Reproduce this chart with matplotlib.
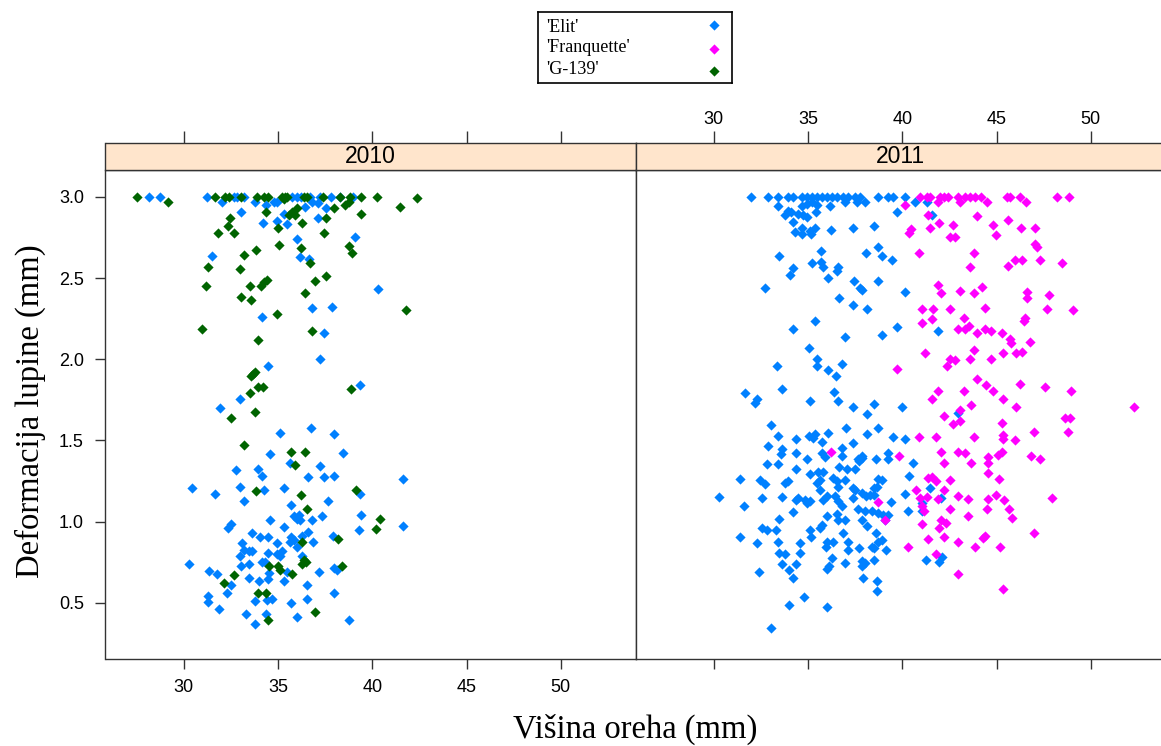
import matplotlib.pyplot as plt

plt.rcParams['font.family'] = ['Liberation Sans', 'DejaVu Sans']

years = ["2010", "2011"]
sorte = ["'Elit'", "'Franquette'", "'G-139'"]
boje = ["#0080ff", "#ff00ff", "#006400"]
x_ticks = [30, 35, 40, 45, 50]
y_ticks = [0.5, 1.0, 1.5, 2.0, 2.5, 3.0]

# 2010 - Elit
elit_2010_x = [28.16, 28.75, 31.25, 32.05, 32.66, 32.85, 33.19, 33.8, 34.77, 34.96, 35.75, 36.0, 36.2, 36.7,
               37.25, 37.8, 38.3, 39.0, 33.02, 34.37, 35.3, 36.46, 36.8, 37.1, 37.57, 34.2, 34.95, 35.5,
               37.13, 36.0, 39.1, 31.48, 36.15, 36.63, 40.3, 36.8, 37.87, 34.16, 37.42, 37.25, 34.46, 39.33,
               32.98, 31.92, 35.13, 36.76, 37.95, 34.6, 35.63, 38.45, 37.25, 32.8, 33.93, 34.16, 36.58,
               37.42, 37.95, 41.62, 30.46, 32.98, 34.25, 35.34, 31.64, 33.19, 37.64, 39.37, 35.7, 35.84,
               36.1, 36.02, 36.19, 36.83, 37.34, 39.42, 41.62, 39.28, 34.6, 32.52, 32.36, 35.34, 33.63,
               34.07, 34.46, 35.7, 35.84, 35.66, 36.28, 36.58, 36.84, 37.92, 33.12, 34.96, 36.0, 33.19,
               33.63, 33.49, 32.98, 34.46, 34.96, 35.22, 35.13, 36.28, 33.02, 33.49, 34.16, 34.29, 34.51,
               35.49, 37.16, 37.95, 38.13, 30.28, 31.34, 31.78, 32.54, 33.49, 33.98, 34.46, 35.34, 36.54,
               31.3, 31.3, 32.3, 33.77, 34.43, 34.69, 35.71, 36.54, 37.95, 31.87, 33.33, 34.37, 36.02,
               33.77, 38.75]
elit_2010_y = [3.0, 3.0, 3.0, 2.97, 3.0, 3.0, 3.0, 2.965, 2.965, 2.965, 3.0, 3.0, 3.0, 3.0,
               3.0, 3.0, 3.0, 3.0, 2.905, 2.95, 2.895, 2.94, 2.97, 2.96, 2.93, 2.84, 2.85, 2.83,
               2.87, 2.74, 2.75, 2.635, 2.63, 2.62, 2.43, 2.315, 2.32, 2.26, 2.16, 2.0, 1.96, 1.84,
               1.755, 1.70, 1.547, 1.578, 1.537, 1.414, 1.362, 1.424, 1.346, 1.32, 1.327, 1.284, 1.276,
               1.276, 1.284, 1.26, 1.208, 1.215, 1.198, 1.208, 1.17, 1.13, 1.13, 1.17, 1.10, 1.033,
               1.044, 1.017, 1.013, 1.008, 1.033, 1.044, 0.975, 0.947, 1.008, 0.988, 0.961, 0.965, 0.93,
               0.905, 0.905, 0.905, 0.889, 0.878, 0.909, 0.936, 0.878, 0.913, 0.869, 0.869, 0.844, 0.827,
               0.817, 0.821, 0.786, 0.807, 0.802, 0.817, 0.786, 0.786, 0.725, 0.741, 0.755, 0.755, 0.684,
               0.693, 0.689, 0.714, 0.704, 0.741, 0.698, 0.679, 0.611, 0.652, 0.632, 0.646, 0.632, 0.611,
               0.543, 0.508, 0.559, 0.514, 0.518, 0.523, 0.498, 0.523, 0.559, 0.46, 0.43, 0.43, 0.415,
               0.368, 0.395]

# 2010 - G-139
g139_2010_x = [27.55, 29.19, 31.64, 32.2, 32.4, 33.05, 33.9, 34.25, 34.5, 35.2, 35.4, 35.5, 35.3, 36.4,
               36.55, 37.4, 38.3, 38.8, 39.4, 40.25, 41.5, 42.36, 34.37, 35.57, 35.75, 35.93, 36.0, 37.95,
               38.57, 38.75, 32.45, 35.0, 32.36, 32.66, 31.83, 36.28, 37.57, 37.42, 39.4, 35.05, 36.2,
               33.85, 33.19, 38.75, 38.93, 36.72, 31.3, 32.98, 37.57, 36.95, 34.25, 34.4, 34.13, 31.2,
               33.5, 33.02, 33.55, 36.46, 41.78, 34.97, 30.95, 36.8, 33.93, 33.55, 33.8, 33.7, 33.93,
               34.2, 38.9, 33.5, 32.52, 33.77, 33.19, 35.7, 36.46, 35.93, 33.85, 36.23, 39.12, 36.54,
               40.39, 40.2, 36.3, 38.17, 36.4, 36.51, 36.28, 34.51, 34.99, 35.13, 35.77, 38.4, 32.66,
               32.13, 33.93, 34.37, 36.98, 34.46]
g139_2010_y = [3.0, 2.97, 3.0, 3.0, 3.0, 3.0, 3.0, 3.0, 3.0, 3.0, 3.0, 3.0, 2.985, 3.0,
               3.0, 3.0, 3.0, 3.0, 3.0, 3.0, 2.94, 2.99, 2.905, 2.885, 2.905, 2.885, 2.93, 2.93,
               2.95, 2.97, 2.87, 2.81, 2.82, 2.78, 2.78, 2.84, 2.87, 2.78, 2.895, 2.705, 2.685,
               2.67, 2.64, 2.695, 2.655, 2.59, 2.57, 2.555, 2.515, 2.48, 2.475, 2.485, 2.45, 2.45,
               2.45, 2.385, 2.366, 2.41, 2.305, 2.28, 2.185, 2.175, 2.12, 1.9, 1.92, 1.91, 1.83,
               1.83, 1.815, 1.79, 1.64, 1.675, 1.475, 1.43, 1.43, 1.352, 1.188, 1.163, 1.198, 1.078,
               1.017, 0.957, 0.878, 0.895, 0.765, 0.751, 0.741, 0.725, 0.725, 0.704, 0.679, 0.725, 0.673,
               0.622, 0.559, 0.559, 0.447, 0.395]

# 2011 - Elit
elit_2011_x = [31.98, 32.87, 33.4, 33.93, 34.23, 34.67, 34.93, 35.2, 35.47, 35.73, 35.99, 36.26, 36.53,
               36.88, 37.15, 37.5, 37.76, 38.73, 39.27, 39.53, 40.15, 33.4, 34.67, 34.93, 35.2, 35.47,
               36.17, 36.96, 37.59, 38.03, 40.69, 41.3, 33.95, 33.77, 34.13, 34.49, 34.75, 34.93, 35.41,
               34.23, 39.71, 41.57, 34.31, 34.67, 34.67, 35.11, 35.16, 35.38, 36.23, 37.41, 38.48, 35.7,
               38.73, 38.06, 38.95, 39.48, 33.47, 35.24, 35.7, 35.78, 36.62, 36.53, 34.23, 34.03, 36.06,
               37.47, 37.76, 37.85, 38.73, 32.72, 40.15, 36.65, 37.41, 38.16, 35.38, 34.19, 36.96, 38.95,
               39.71, 41.92, 35.07, 35.47, 35.48, 36.82, 33.34, 36.06, 36.49, 31.66, 32.28, 32.19, 33.61,
               35.11, 36.39, 36.59, 37.41, 38.16, 38.53, 40.01, 42.98, 33.03, 33.4, 32.91, 34.35, 35.07,
               35.38, 35.29, 35.77, 36.06, 37.02, 38.16, 38.73, 37.41, 39.49, 40.15, 33.61, 33.57, 34.37,
               34.93, 35.73, 35.91, 36.8, 36.8, 37.85, 37.7, 38.61, 39.27, 39.27, 40.59, 41.48, 42.06,
               41.04, 41.04, 41.27, 41.96, 42.1, 40.38, 40.15, 40.32, 30.29, 31.4, 31.61, 31.4, 32.28,
               32.42, 32.46, 32.72, 32.55, 32.81, 33.4, 33.47, 32.55, 32.81, 33.3, 33.4, 33.47, 33.8,
               33.61, 33.61, 34.0, 34.19, 34.37, 34.57, 34.57, 33.8, 33.97, 34.23, 34.37, 34.49, 34.85,
               34.93, 35.11, 34.37, 35.11, 35.47, 35.64, 35.56, 35.82, 35.64, 35.82, 35.99, 35.11, 35.16,
               35.64, 35.73, 36.03, 35.96, 36.35, 36.3, 35.99, 36.12, 36.35, 36.53, 36.62, 36.44, 36.62,
               36.8, 35.99, 36.53, 36.62, 36.96, 36.88, 37.15, 37.11, 36.96, 36.65, 37.09, 37.5, 36.96,
               37.41, 37.5, 37.41, 37.68, 37.89, 37.68, 38.03, 37.85, 38.16, 37.7, 37.85, 38.03, 37.85,
               37.94, 37.89, 38.06, 38.3, 38.48, 38.39, 38.53, 38.64, 38.73, 38.91, 38.73, 39.0, 39.23,
               39.09, 39.41, 38.61, 38.39, 38.53, 38.73, 38.91, 39.13, 38.48, 38.69, 38.69, 34.82, 34.0,
               35.99, 33.03]
elit_2011_y = [3.0, 3.0, 3.0, 3.0, 3.0, 3.0, 3.0, 3.0, 3.0, 3.0, 3.0, 3.0, 3.0,
               3.0, 3.0, 3.0, 3.0, 3.0, 3.0, 3.0, 3.0, 2.946, 2.946, 2.957, 2.97, 2.95,
               2.946, 2.97, 2.97, 2.97, 2.97, 2.97, 2.915, 2.889, 2.905, 2.895, 2.885, 2.875, 2.905,
               2.844, 2.905, 2.885, 2.782, 2.807, 2.772, 2.792, 2.772, 2.807, 2.798, 2.807, 2.819, 2.668,
               2.693, 2.652, 2.634, 2.611, 2.634, 2.59, 2.597, 2.566, 2.566, 2.545, 2.56, 2.52, 2.498,
               2.483, 2.436, 2.426, 2.48, 2.436, 2.412, 2.377, 2.333, 2.309, 2.236, 2.185, 2.134, 2.15,
               2.196, 2.175, 2.072, 2.0, 1.96, 1.97, 1.96, 1.934, 1.897, 1.794, 1.753, 1.733, 1.815,
               1.743, 1.80, 1.743, 1.708, 1.665, 1.727, 1.708, 1.67, 1.594, 1.527, 1.465, 1.51, 1.527,
               1.541, 1.516, 1.49, 1.548, 1.578, 1.537, 1.578, 1.486, 1.52, 1.51, 1.449, 1.418, 1.424,
               1.387, 1.424, 1.40, 1.455, 1.407, 1.393, 1.372, 1.387, 1.424, 1.383, 1.362, 1.208, 1.146,
               1.115, 1.064, 0.765, 0.755, 0.782, 1.284, 1.173, 1.068, 1.152, 1.265, 1.094, 0.903, 0.869,
               0.693, 1.255, 1.233, 1.146, 1.356, 1.356, 1.019, 0.961, 0.946, 0.946, 0.878, 0.807, 0.80,
               1.152, 0.741, 0.704, 0.652, 0.741, 0.807, 0.869, 1.239, 1.253, 1.06, 1.136, 1.146, 1.136,
               1.115, 1.13, 1.325, 1.296, 1.239, 1.259, 1.304, 1.304, 1.198, 1.136, 1.033, 0.951, 0.903,
               0.961, 0.977, 0.878, 0.844, 0.878, 0.776, 0.708, 0.725, 1.27, 1.249, 1.214, 1.156, 1.125,
               1.099, 1.156, 1.047, 1.008, 1.008, 0.93, 0.878, 0.827, 0.745, 1.335, 1.325, 1.325, 1.259,
               1.208, 1.198, 1.146, 1.387, 1.403, 1.078, 1.064, 1.008, 0.975, 0.838, 0.761, 0.745, 0.725,
               0.652, 1.177, 1.156, 1.167, 1.163, 1.068, 1.208, 1.214, 1.265, 1.255, 1.053, 1.044, 1.044,
               1.013, 1.122, 0.93, 0.847, 0.838, 0.878, 0.889, 0.827, 0.765, 0.636, 0.574, 0.539, 0.488,
               0.477, 0.348]

# 2011 - Franquette
franq_2011_x = [40.95, 41.3, 41.48, 42.01, 42.19, 42.45, 42.98, 43.33, 43.59, 43.86, 44.18, 45.54, 45.72,
                46.25, 48.19, 48.85, 40.15, 41.89, 43.07, 44.49, 46.57, 41.36, 43.96, 45.63, 41.96, 42.68,
                44.84, 40.46, 40.37, 41.48, 46.3, 47.04, 42.53, 42.8, 44.98, 47.04, 47.17, 40.91, 43.81,
                45.96, 46.34, 45.63, 47.28, 48.46, 43.57, 41.88, 42.06, 43.07, 43.81, 44.25, 46.64, 46.64,
                47.76, 41.04, 41.65, 42.53, 44.39, 47.67, 49.08, 41.04, 41.57, 43.29, 46.52, 46.46, 42.98,
                43.33, 43.54, 43.96, 44.39, 44.71, 45.28, 45.69, 45.76, 46.78, 41.21, 43.83, 45.37, 46.02,
                46.34, 42.53, 42.8, 42.4, 43.57, 44.69, 39.71, 43.96, 44.44, 44.8, 46.25, 47.58, 48.95,
                41.88, 41.57, 43.29, 45.37, 43.66, 46.02, 52.3, 43.07, 42.19, 48.65, 48.91, 43.07, 42.68,
                45.28, 48.77, 47.0, 43.81, 45.37, 45.37, 45.96, 40.91, 41.79, 36.23, 39.85, 42.06, 42.24,
                42.98, 43.33, 43.66, 44.55, 44.55, 45.08, 45.28, 46.84, 47.31, 44.55, 45.14, 41.36, 41.57,
                41.79, 42.53, 40.74, 42.19, 40.95, 41.3, 41.92, 42.98, 43.51, 44.55, 44.98, 45.42, 47.96,
                38.73, 41.04, 41.18, 42.53, 43.49, 44.49, 45.67, 45.81, 39.09, 41.04, 42.06, 42.31, 41.96,
                42.24, 41.36, 42.98, 44.39, 44.3, 47.0, 40.32, 43.86, 45.21, 41.79, 42.98, 45.37]
franq_2011_y = [3.0, 3.0, 3.0, 3.0, 3.0, 3.0, 3.0, 3.0, 3.0, 3.0, 3.0, 3.0, 3.0,
                3.0, 3.0, 3.0, 2.95, 2.97, 2.97, 2.965, 2.97, 2.889, 2.879, 2.86, 2.838, 2.827,
                2.827, 2.80, 2.778, 2.807, 2.807, 2.807, 2.755, 2.755, 2.765, 2.71, 2.693, 2.652, 2.652,
                2.611, 2.611, 2.572, 2.611, 2.593, 2.566, 2.459, 2.407, 2.422, 2.407, 2.446, 2.415, 2.38,
                2.395, 2.309, 2.309, 2.309, 2.315, 2.309, 2.305, 2.226, 2.247, 2.257, 2.257, 2.236, 2.185,
                2.185, 2.206, 2.159, 2.185, 2.175, 2.16, 2.123, 2.103, 2.107, 2.037, 2.056, 2.037, 2.037,
                2.047, 1.999, 1.994, 1.96, 2.0, 2.0, 1.943, 1.881, 1.842, 1.804, 1.85, 1.829, 1.804,
                1.804, 1.753, 1.804, 1.753, 1.718, 1.706, 1.706, 1.687, 1.65, 1.636, 1.636, 1.619, 1.599,
                1.605, 1.554, 1.554, 1.52, 1.531, 1.51, 1.506, 1.52, 1.52, 1.43, 1.407, 1.43, 1.362,
                1.43, 1.424, 1.362, 1.40, 1.362, 1.41, 1.43, 1.407, 1.387, 1.3, 1.265, 1.27, 1.273,
                1.253, 1.259, 1.198, 1.198, 1.146, 1.15, 1.142, 1.156, 1.14, 1.14, 1.167, 1.131, 1.146,
                1.122, 1.094, 1.064, 1.078, 1.033, 1.078, 1.078, 1.023, 1.008, 0.988, 1.008, 0.992, 0.961,
                0.905, 0.895, 0.878, 0.914, 0.90, 0.93, 0.844, 0.844, 0.844, 0.802, 0.679, 0.585]

panel_data = {
    "2010": [(elit_2010_x, elit_2010_y, boje[0]), (g139_2010_x, g139_2010_y, boje[2])],
    "2011": [(elit_2011_x, elit_2011_y, boje[0]), (franq_2011_x, franq_2011_y, boje[1])],
}

W, H = 1161, 746
fig = plt.figure(figsize=(W / 100, H / 100), dpi=100)
lc = "#333333"
msize = 27

for i, year in enumerate(years):
    left = (105.5 + i * 530) / W
    ax = fig.add_axes([left, 1 - 658.5 / H, 530 / W, 488.5 / H])
    st = fig.add_axes([left, 1 - 170 / H, 530 / W, 27 / H])
    for x, y, c in panel_data[year]:
        ax.scatter(x, y, marker="D", s=msize, c=c, linewidths=0, zorder=3)
    ax.set_xlim(25.86, 53.96)
    ax.set_ylim(0.158, 3.165)
    st.set_xlim(25.86, 53.96)
    st.set_ylim(0, 1)
    ax.set_xticks(x_ticks)
    ax.set_yticks(y_ticks)
    ax.set_yticklabels(["%.1f" % v for v in y_ticks])
    st.set_xticks(x_ticks)
    st.set_yticks([])
    ax.tick_params(axis="x", direction="out", length=7.5, width=1, color=lc,
                   labelsize=13, pad=7, labelbottom=(i == 0))
    ax.tick_params(axis="y", direction="out", length=7.5, width=1, color=lc,
                   labelsize=13, pad=8, left=(i == 0), labelleft=(i == 0))
    st.tick_params(axis="x", direction="out", length=8.5, width=1, color=lc,
                   labelsize=13, pad=2.5, top=True, bottom=False,
                   labeltop=(i == 1), labelbottom=False)
    st.set_facecolor("#ffe5cc")
    st.text(0.5, 0.5, year, transform=st.transAxes, ha="center", va="center", fontsize=16.5)
    for a in (ax, st):
        for sp in a.spines.values():
            sp.set_color(lc)
            sp.set_linewidth(1)

serif = ["Liberation Serif", "DejaVu Serif"]
fig.text(635 / W, 1 - 729 / H, "Višina oreha (mm)", ha="center", va="center",
         fontsize=23.5, family=serif)
fig.text(30 / W, 1 - 411 / H, "Deformacija lupine (mm)", ha="center", va="center",
         rotation=90, fontsize=23.5, family=serif)

# legend box
lax = fig.add_axes([538 / W, 1 - 83.3 / H, 194 / W, 71 / H])
lax.set_xlim(0, 194)
lax.set_ylim(71, 0)
lax.set_xticks([])
lax.set_yticks([])
for sp in lax.spines.values():
    sp.set_color("black")
    sp.set_linewidth(1.2)
text_y = [15.2, 35.7, 57.4]
mark_y = [12.7, 36.2, 59.2]
for name, c, ty, my in zip(sorte, boje, text_y, mark_y):
    lax.text(8, ty, name, ha="left", va="center", fontsize=13, family=serif)
    lax.scatter([176], [my], marker="D", s=msize, c=c, linewidths=0)

fig.savefig("out.png", dpi=100)
